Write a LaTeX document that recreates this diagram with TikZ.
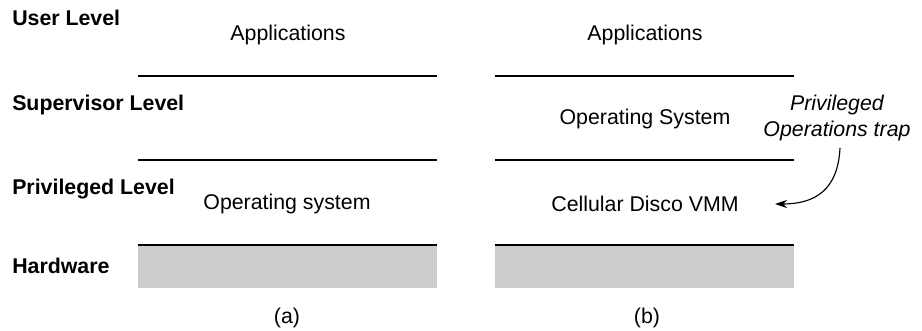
\documentclass[tikz,border=0pt]{standalone}
\usepackage{fontspec}
\setmainfont{Liberation Sans}
\usetikzlibrary{arrows.meta}
\begin{document}
\begin{tikzpicture}[x=0.75pt,y=-0.75pt,
  lvl/.style={font=\fontsize{16}{18}\selectfont\bfseries, anchor=west, inner sep=0pt},
  txt/.style={font=\fontsize{16}{18}\selectfont, inner sep=0pt},
  note/.style={font=\fontsize{16}{19}\selectfont\itshape, inner sep=0pt, align=center},
  sep/.style={line width=1.5pt},
  hw/.style={fill=black!20, draw=none},
  hwtop/.style={line width=2pt}]
\useasboundingbox (0,0) rectangle (922,331);
% level labels
\node[lvl] (ul) at (12,18) {User Level};
\node[lvl] (sl) at (12,105) {Supervisor Level};
\node[lvl] (pl) at (12,189) {Privileged Level};
\node[lvl] (hl) at (12,266) {Hardware};
% panel (a)
\coordinate (a1l) at (138,76); \coordinate (a1r) at (437,76);
\coordinate (a2l) at (138,160); \coordinate (a2r) at (437,160);
\coordinate (a3l) at (138,245); \coordinate (a3r) at (437,245);
\draw[sep] (a1l) -- (a1r);
\draw[sep] (a2l) -- (a2r);
\fill[hw] (138,245) rectangle (437,288);
\draw[hwtop] (a3l) -- (a3r);
\node[txt] (aapp) at (288,35) {Applications};
\node[txt] (aos) at (287,204) {Operating system};
\node[txt] (acap) at (287,318) {(a)};
% panel (b)
\coordinate (b1l) at (495,76); \coordinate (b1r) at (794,76);
\coordinate (b2l) at (495,160); \coordinate (b2r) at (794,160);
\coordinate (b3l) at (495,245); \coordinate (b3r) at (794,245);
\draw[sep] (b1l) -- (b1r);
\draw[sep] (b2l) -- (b2r);
\fill[hw] (495,245) rectangle (794,288);
\draw[hwtop] (b3l) -- (b3r);
\node[txt] (bapp) at (645,35) {Applications};
\node[txt] (bos) at (645,119) {Operating System};
\node[txt] (bvmm) at (645,204) {Cellular Disco VMM};
\node[txt] (bcap) at (647,318) {(b)};
% trap note and arrow
\node[note] (trap) at (837,118) {Privileged\\Operations trap};
\coordinate (tgt) at (775,204);
\draw[line width=0.85pt,-{Stealth[length=9pt,width=6pt]}] (trap.south -| 840,0) ++(0,7) .. controls (838,190) and (815,204) .. (tgt);
\end{tikzpicture}
\end{document}
